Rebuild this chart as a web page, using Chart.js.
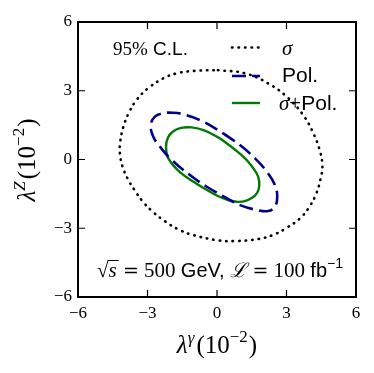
<!DOCTYPE html>
<html>
<head>
<meta charset="utf-8">
<script src="https://cdn.jsdelivr.net/npm/chart.js@4.4.0/dist/chart.umd.min.js"></script>
<style>
  html, body { margin: 0; padding: 0; background: #fff; }
  canvas { display: block; }
</style>
</head>
<body>
<canvas id="myChart" width="374" height="373"></canvas>
<script>
// 95% C.L. contours (units of 10^-2)
const sigmaX = [0.04, 1.21, 2.21, 3.01, 3.72, 4.16, 4.45, 4.55, 4.47, 4.28, 3.98, 3.58, 3.01, 2.43, 1.78, 0.78, 0.06, -1.02, -1.67, -2.24, -2.75, -3.20, -3.55, -3.85, -4.08, -4.19, -4.18, -4.04, -3.80, -3.47, -2.97, -2.32, -1.74, -0.95, 0.04];
const sigmaY = [3.90, 3.76, 3.32, 2.74, 1.94, 1.14, 0.35, -0.30, -0.85, -1.50, -2.08, -2.57, -2.98, -3.29, -3.47, -3.56, -3.53, -3.30, -3.05, -2.70, -2.30, -1.84, -1.35, -0.85, -0.30, 0.25, 0.75, 1.43, 2.05, 2.60, 3.11, 3.54, 3.76, 3.87, 3.90];

const polX = [0.27, 0.99, 1.64, 2.15, 2.50, 2.60, 2.50, 2.21, 1.71, 0.99, 0.42, -0.44, -1.17, -2.03, -2.46, -2.75, -2.86, -2.68, -2.32, -1.89, -1.45, -0.59, 0.27];
const polY = [1.14, 0.63, 0.05, -0.53, -1.11, -1.62, -2.06, -2.25, -2.20, -1.99, -1.69, -1.19, -0.68, 0.05, 0.56, 0.99, 1.51, 1.87, 2.02, 2.04, 1.97, 1.65, 1.14];

const combX = [0.13, 0.70, 1.28, 1.71, 1.82, 1.80, 1.64, 1.30, 0.90, 0.45, -0.01, -0.45, -0.88, -1.60, -2.10, -2.20, -2.12, -1.90, -1.55, -1.10, -0.55, 0.13];
const combY = [0.92, 0.49, -0.02, -0.60, -0.95, -1.30, -1.58, -1.78, -1.85, -1.76, -1.57, -1.32, -1.06, -0.55, 0.05, 0.56, 0.95, 1.22, 1.38, 1.40, 1.27, 0.92];

const tickValues = [-6, -3, 0, 3, 6];
const seriesNames = ['σ', 'Pol.', 'σ+Pol.'];

const SERIF = '"Liberation Serif"';
const SANS = '"Liberation Sans"';
const EQ = '"DejaVu Serif"';

function toPoints(xs, ys) {
  return xs.map((x, i) => ({x: x, y: ys[i]}));
}

function fmt(v) {
  return v < 0 ? '\u2212' + Math.abs(v) : String(v);
}

// draws a list of text pieces with their own fonts on one baseline
function drawRich(ctx, segs, x, y, align) {
  let w = 0;
  segs.forEach(s => { ctx.font = s.f; s.w = ctx.measureText(s.t).width + (s.gap || 0); w += s.w; });
  let cx = align === 'center' ? x - w / 2 : x;
  ctx.textAlign = 'left';
  ctx.textBaseline = 'alphabetic';
  segs.forEach(s => {
    ctx.font = s.f;
    ctx.fillText(s.t, cx, y + (s.dy || 0));
    if (s.over) {
      ctx.beginPath();
      ctx.lineWidth = 1;
      ctx.moveTo(cx - 1, y - 16.5);
      ctx.lineTo(cx + s.w + 1, y - 16.5);
      ctx.stroke();
    }
    cx += s.w;
  });
}

const frame = {
  id: 'frame',
  afterDatasetsDraw(chart) {
    const ctx = chart.ctx, a = chart.chartArea;
    const xs = chart.scales.x, ys = chart.scales.y;
    ctx.save();
    ctx.strokeStyle = '#000';
    ctx.lineWidth = 1.2;
    tickValues.forEach(v => {
      if (v === -6 || v === 6) return;
      const px = xs.getPixelForValue(v), py = ys.getPixelForValue(v);
      ctx.beginPath();
      ctx.moveTo(px, a.bottom); ctx.lineTo(px, a.bottom - 7);
      ctx.moveTo(px, a.top); ctx.lineTo(px, a.top + 7);
      ctx.moveTo(a.left, py); ctx.lineTo(a.left + 7, py);
      ctx.moveTo(a.right, py); ctx.lineTo(a.right - 7, py);
      ctx.stroke();
    });
    ctx.lineWidth = 2;
    ctx.strokeRect(a.left, a.top, a.right - a.left, a.bottom - a.top);
    ctx.restore();
  },
  afterDraw(chart) {
    const ctx = chart.ctx;
    ctx.save();
    ctx.fillStyle = '#000';
    ctx.strokeStyle = '#000';

    // legend
    drawRich(ctx, [{t: '95%', f: '19px ' + SERIF}, {t: ' C.L.', f: '19px ' + SANS}], 113, 55, 'left');
    const rows = [47.5, 76, 103];
    chart.data.datasets.forEach((ds, i) => {
      ctx.save();
      ctx.strokeStyle = ds.borderColor;
      ctx.lineWidth = ds.borderWidth;
      ctx.lineCap = ds.borderCapStyle || 'butt';
      ctx.setLineDash(ds.borderDash || []);
      ctx.beginPath();
      ctx.moveTo(232, rows[i]);
      ctx.lineTo(260, rows[i]);
      ctx.stroke();
      ctx.restore();
    });
    drawRich(ctx, [{t: 'σ', f: 'italic 21px ' + SERIF}], 282, 55, 'left');
    drawRich(ctx, [{t: 'Pol.', f: '21px ' + SANS}], 282, 82, 'left');
    drawRich(ctx, [{t: 'σ', f: 'italic 21px ' + SERIF}, {t: '+', f: '21px ' + SERIF}, {t: 'Pol.', f: '21px ' + SANS}], 279, 110, 'left');

    // beam info
    drawRich(ctx, [
      {t: '√', f: '21px ' + SERIF},
      {t: 's', f: 'italic 21px ' + SERIF, over: true, gap: 1},
      {t: ' ', f: '21px ' + SERIF},
      {t: '=', f: '19px ' + EQ},
      {t: ' 500 ', f: '21px ' + SERIF},
      {t: 'GeV, ', f: '20px ' + SANS},
      {t: 'ℒ', f: 'italic 20px ' + EQ},
      {t: ' ', f: '21px ' + SERIF},
      {t: '=', f: '19px ' + EQ},
      {t: ' 100 ', f: '21px ' + SERIF},
      {t: 'fb', f: '20px ' + SANS},
      {t: '\u22121', f: '14px ' + SANS, dy: -9}
    ], 97, 277, 'left');

    // axis titles
    const xTitle = [
      {t: 'λ', f: 'italic 25px ' + SERIF},
      {t: 'γ', f: 'italic 17px ' + SERIF, dy: -10, gap: 2},
      {t: '(10', f: '25px ' + SERIF},
      {t: '\u22122', f: '17px ' + SERIF, dy: -11, gap: 1},
      {t: ')', f: '25px ' + SERIF}
    ];
    drawRich(ctx, xTitle, 217, 353, 'center');

    ctx.translate(35, 160);
    ctx.rotate(-Math.PI / 2);
    drawRich(ctx, [
      {t: 'λ', f: 'italic 25px ' + SERIF},
      {t: 'Z', f: 'italic 17px ' + SERIF, dy: -10, gap: 2},
      {t: '(10', f: '25px ' + SERIF},
      {t: '\u22122', f: '17px ' + SERIF, dy: -11, gap: 1},
      {t: ')', f: '25px ' + SERIF}
    ], 0, 0, 'center');
    ctx.restore();
  }
};

const ctx = document.getElementById('myChart').getContext('2d');
const chart = new Chart(ctx, {
  type: 'scatter',
  data: {
    datasets: [{
      label: seriesNames[0],
      data: toPoints(sigmaX, sigmaY),
      showLine: true,
      borderColor: '#000000',
      borderWidth: 2.6,
      borderDash: [0.5, 6],
      borderCapStyle: 'round',
      tension: 0.4,
      pointRadius: 0,
      fill: false
    }, {
      label: seriesNames[1],
      data: toPoints(polX, polY),
      showLine: true,
      borderColor: '#00008B',
      borderWidth: 2.6,
      borderDash: [14, 6],
      borderCapStyle: 'butt',
      tension: 0.4,
      pointRadius: 0,
      fill: false
    }, {
      label: seriesNames[2],
      data: toPoints(combX, combY),
      showLine: true,
      borderColor: '#007A00',
      borderWidth: 2.4,
      tension: 0.4,
      pointRadius: 0,
      fill: false
    }]
  },
  options: {
    responsive: false,
    animation: false,
    layout: { padding: { left: 0, top: 22, right: 18, bottom: 0 } },
    plugins: { legend: { display: false }, tooltip: { enabled: false } },
    scales: {
      x: {
        type: 'linear',
        min: -6, max: 6,
        afterFit: s => { s.height = 76; },
        afterBuildTicks: s => { s.ticks = tickValues.map(v => ({value: v})); },
        grid: { display: false, drawTicks: false },
        border: { display: false },
        ticks: { callback: fmt, color: '#000', padding: 6, maxRotation: 0, font: { family: 'Liberation Serif', size: 17 } }
      },
      y: {
        type: 'linear',
        min: -6, max: 6,
        afterFit: s => { s.width = 78; },
        afterBuildTicks: s => { s.ticks = tickValues.map(v => ({value: v})); },
        grid: { display: false, drawTicks: false },
        border: { display: false },
        ticks: { callback: fmt, color: '#000', padding: 6, font: { family: 'Liberation Serif', size: 17 } }
      }
    }
  },
  plugins: [frame]
});
</script>
</body>
</html>
